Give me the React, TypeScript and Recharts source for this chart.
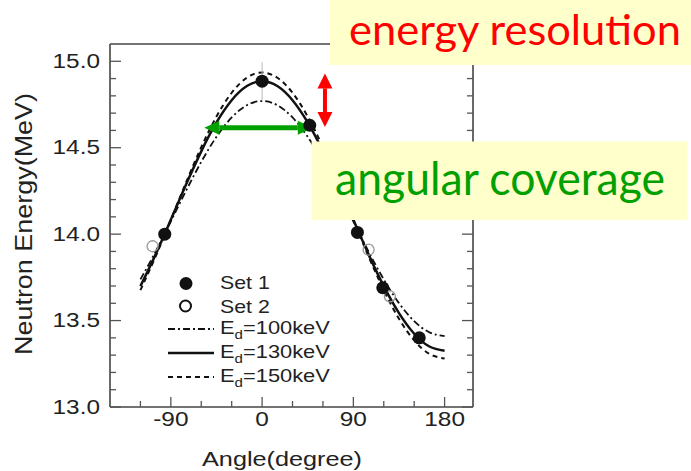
import React from 'react';
import { ComposedChart, Line, Scatter, XAxis, YAxis, ErrorBar, ReferenceLine } from 'recharts';

// ---- data ----
const curveAngles = [-120, -105, -90, -75, -60, -45, -30, -15, 0, 15, 30, 45, 60, 75, 90, 105, 120, 135, 150, 165, 180];
const energy100 = [13.738, 13.899, 14.074, 14.251, 14.418, 14.563, 14.675, 14.746, 14.77, 14.746, 14.675, 14.563, 14.418, 14.251, 14.074, 13.899, 13.738, 13.601, 13.497, 13.432, 13.41];
const energy130 = [13.699, 13.883, 14.084, 14.287, 14.479, 14.646, 14.775, 14.857, 14.885, 14.857, 14.775, 14.646, 14.479, 14.287, 14.084, 13.883, 13.699, 13.543, 13.424, 13.35, 13.325];
const energy150 = [13.676, 13.871, 14.083, 14.299, 14.503, 14.68, 14.818, 14.905, 14.935, 14.905, 14.818, 14.68, 14.503, 14.299, 14.083, 13.871, 13.676, 13.51, 13.385, 13.307, 13.28];

const set1Angles = [-96, 0, 47, 94, 119, 155];
const set1Energies = [14.0, 14.885, 14.63, 14.01, 13.69, 13.4];
const set1Errors = [0, 0.11, 0, 0, 0, 0];
const set2Angles = [-108, 105, 126];
const set2Energies = [13.93, 13.91, 13.64];

const xTicks = [-120, -90, -60, -30, 0, 30, 60, 90, 120, 150, 180];
const xMajorTicks = [-90, 0, 90, 180];
const yTicks = [13.0, 13.1, 13.2, 13.3, 13.4, 13.5, 13.6, 13.7, 13.8, 13.9, 14.0, 14.1, 14.2, 14.3, 14.4, 14.5, 14.6, 14.7, 14.8, 14.9, 15.0];

const xLabel = 'Angle(degree)';
const yLabel = 'Neutron Energy(MeV)';
const legendSets = ['Set 1', 'Set 2'];
const legendEd = ['100keV', '130keV', '150keV'];
const noteResolution = 'energy resolution';
const noteCoverage = 'angular coverage';

// ---- tables built from the arrays ----
const makeCurve = (vals: number[]) => curveAngles.map((a, i) => ({ angle: a, e: vals[i] }));
const curve100 = makeCurve(energy100);
const curve130 = makeCurve(energy130);
const curve150 = makeCurve(energy150);
const set1 = set1Angles.map((a, i) => ({ angle: a, e: set1Energies[i], err: set1Errors[i] }));
const set2 = set2Angles.map((a, i) => ({ angle: a, e: set2Energies[i] }));

const FONT = '"Liberation Sans", Arial, Helvetica, sans-serif';
const TICK = '#555';
const AXIS = '#444';
const INK = '#111';

const isMajorY = (v: number) => Math.abs(v * 2 - Math.round(v * 2)) < 1e-6;

const BottomTick = (p: any) => {
  const { x, y, payload } = p;
  const v = payload.value;
  const major = xMajorTicks.includes(v);
  return (
    <g>
      <line x1={x} y1={y} x2={x} y2={y - (major ? 10 : 6)} stroke={TICK} strokeWidth={1.3} />
      {major && (
        <text transform={`translate(${x},${y + 19}) scale(1.22,1)`} textAnchor="middle" fontSize={20} fontFamily={FONT} fill="#222">
          {v}
        </text>
      )}
    </g>
  );
};

const TopTick = (p: any) => {
  const { x, y, payload } = p;
  const major = xMajorTicks.includes(payload.value);
  return <line x1={x} y1={y} x2={x} y2={y + (major ? 10 : 6)} stroke={TICK} strokeWidth={1.3} />;
};

const LeftTick = (p: any) => {
  const { x, y, payload } = p;
  const v = payload.value;
  const major = isMajorY(v);
  return (
    <g>
      <line x1={x} y1={y} x2={x + (major ? 11 : 6)} y2={y} stroke={TICK} strokeWidth={1.3} />
      {major && (
        <text transform={`translate(${x - 10},${y + 6.5}) scale(1.25,1)`} textAnchor="end" fontSize={19.5} fontFamily={FONT} fill="#222">
          {v.toFixed(1)}
        </text>
      )}
    </g>
  );
};

const RightTick = (p: any) => {
  const { x, y, payload } = p;
  const major = isMajorY(payload.value);
  return <line x1={x} y1={y} x2={x - (major ? 11 : 6)} y2={y} stroke={TICK} strokeWidth={1.3} />;
};

const makeArrow = (color: string, head: number, halfW: number, shaft: number) => (p: any) => {
  const { x1, y1, x2, y2 } = p;
  const dx = x2 - x1;
  const dy = y2 - y1;
  const L = Math.hypot(dx, dy) || 1;
  const ux = dx / L;
  const uy = dy / L;
  const nx = -uy;
  const ny = ux;
  const ax = x1 + ux * head;
  const ay = y1 + uy * head;
  const bx = x2 - ux * head;
  const by = y2 - uy * head;
  const h1 = `${x1},${y1} ${ax + nx * halfW},${ay + ny * halfW} ${ax - nx * halfW},${ay - ny * halfW}`;
  const h2 = `${x2},${y2} ${bx + nx * halfW},${by + ny * halfW} ${bx - nx * halfW},${by - ny * halfW}`;
  return (
    <g>
      <line x1={ax} y1={ay} x2={bx} y2={by} stroke={color} strokeWidth={shaft} />
      <polygon points={h1} fill={color} />
      <polygon points={h2} fill={color} />
    </g>
  );
};

const filledDot = (p: any) => <circle cx={p.cx} cy={p.cy} r={6.5} fill={INK} />;
const openDot = (p: any) => <circle cx={p.cx} cy={p.cy} r={5.5} fill="none" stroke="#999" strokeWidth={1.3} />;

const legendStyles = [
  { dash: '7 3 2 3', width: 1.8 },
  { dash: undefined, width: 2.5 },
  { dash: '5 4', width: 2 },
];

export default function App() {
  return (
    <div style={{ position: 'absolute', left: 0, top: 0, width: 691, height: 471, background: '#fff' }}>
      <ComposedChart width={691} height={471} margin={{ top: 34, right: 208, bottom: 34, left: 50 }}>
        <XAxis
          dataKey="angle"
          type="number"
          domain={[-150, 208]}
          allowDataOverflow
          ticks={xTicks}
          interval={0}
          height={30}
          tickSize={0}
          tickMargin={0}
          tickLine={false}
          tick={BottomTick}
          axisLine={{ stroke: AXIS, strokeWidth: 1.6 }}
        />
        <XAxis
          xAxisId="top"
          orientation="top"
          type="number"
          domain={[-150, 208]}
          allowDataOverflow
          ticks={xTicks}
          interval={0}
          height={10}
          tickSize={0}
          tickMargin={0}
          tickLine={false}
          tick={TopTick}
          axisLine={{ stroke: AXIS, strokeWidth: 1.6 }}
        />
        <YAxis
          type="number"
          domain={[13, 15.1]}
          allowDataOverflow
          ticks={yTicks}
          interval={0}
          width={60}
          tickSize={0}
          tickMargin={0}
          tickLine={false}
          tick={LeftTick}
          axisLine={{ stroke: AXIS, strokeWidth: 1.6 }}
        />
        <YAxis
          yAxisId="right"
          orientation="right"
          type="number"
          domain={[13, 15.1]}
          allowDataOverflow
          ticks={yTicks}
          interval={0}
          width={10}
          tickSize={0}
          tickMargin={0}
          tickLine={false}
          tick={RightTick}
          axisLine={{ stroke: AXIS, strokeWidth: 1.6 }}
        />
        <Line data={curve100} dataKey="e" type="natural" stroke={INK} strokeWidth={1.8} strokeDasharray="7 3 2 3" dot={false} isAnimationActive={false} />
        <Line data={curve150} dataKey="e" type="natural" stroke={INK} strokeWidth={2} strokeDasharray="5 4" dot={false} isAnimationActive={false} />
        <Line data={curve130} dataKey="e" type="natural" stroke={INK} strokeWidth={2.5} dot={false} isAnimationActive={false} />
        <Scatter data={set2} dataKey="e" shape={openDot} isAnimationActive={false} />
        <Scatter data={set1} dataKey="e" shape={filledDot} isAnimationActive={false}>
          <ErrorBar dataKey="err" direction="y" width={0} stroke="#bbb" strokeWidth={1} />
        </Scatter>
        <ReferenceLine
          segment={[{ x: -57, y: 14.615 }, { x: 50, y: 14.615 }]}
          shape={makeArrow('#00A000', 15, 7, 5)}
        />
        <ReferenceLine
          segment={[{ x: 62, y: 14.93 }, { x: 62, y: 14.62 }]}
          shape={makeArrow('#FF0000', 15, 7.5, 4)}
        />
      </ComposedChart>

      <svg width={691} height={471} style={{ position: 'absolute', left: 0, top: 0, pointerEvents: 'none' }}>
        {/* axis titles */}
        <text x={282} y={466} textAnchor="middle" fontSize={21} fontFamily={FONT} fill="#222" textLength={160} lengthAdjust="spacingAndGlyphs">
          {xLabel}
        </text>
        <text transform="translate(32,224) rotate(-90)" textAnchor="middle" fontSize={24} fontFamily={FONT} fill="#222" textLength={262} lengthAdjust="spacingAndGlyphs">
          {yLabel}
        </text>

        {/* legend */}
        <circle cx={186} cy={283.5} r={6.5} fill={INK} />
        <circle cx={185.5} cy={306} r={5.5} fill="none" stroke={INK} strokeWidth={2} />
        {legendSets.map((s, i) => (
          <text key={s} transform={`translate(220,${289 + i * 23.5}) scale(1.22,1)`} fontSize={17.5} fontFamily={FONT} fill="#222">
            {s}
          </text>
        ))}
        {legendEd.map((s, i) => (
          <g key={s}>
            <line x1={168} x2={214} y1={329 + i * 24} y2={329 + i * 24} stroke={INK} strokeWidth={legendStyles[i].width} strokeDasharray={legendStyles[i].dash} />
            <text transform={`translate(220,${334 + i * 24}) scale(1.25,1)`} fontSize={17.5} fontFamily={FONT} fill="#222">
              E<tspan fontSize={12} dy={5}>d</tspan>
              <tspan dy={-5}>={s}</tspan>
            </text>
          </g>
        ))}

        {/* annotation boxes */}
        <rect x={330} y={0} width={361} height={65} fill="#FFFFCC" />
        <text x={349} y={44.5} fontSize={43} fontFamily="Lato, 'Open Sans', sans-serif" fill="#FF0000" textLength={332} lengthAdjust="spacingAndGlyphs">
          {noteResolution}
        </text>
        <rect x={311.5} y={141.5} width={376} height={78.5} fill="#FFFFCC" />
        <text x={335} y={195} fontSize={46} fontFamily="Lato, 'Open Sans', sans-serif" fill="#00A000" textLength={330} lengthAdjust="spacingAndGlyphs">
          {noteCoverage}
        </text>
      </svg>
    </div>
  );
}
